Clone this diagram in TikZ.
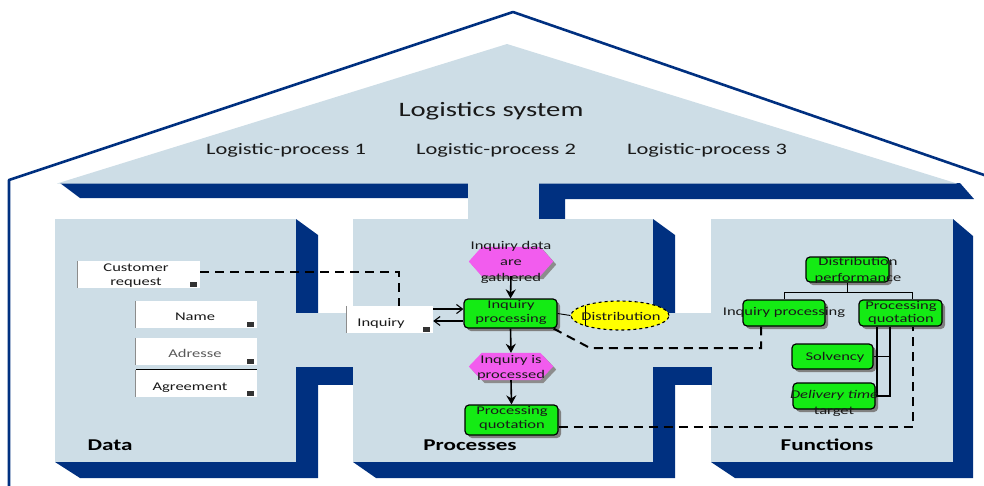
\documentclass[tikz,border=0pt]{standalone}
\usepackage{fontspec}
\setmainfont{Carlito}[FakeStretch=1.4]
\usetikzlibrary{arrows.meta,calc,shapes.geometric,shadows}
\definecolor{lb}{RGB}{205,221,230}
\definecolor{db}{RGB}{0,48,128}
\definecolor{gr}{RGB}{20,235,20}
\definecolor{mg}{RGB}{242,92,238}
\definecolor{yl}{RGB}{255,255,0}
\definecolor{tx}{RGB}{25,25,25}
\begin{document}
\begin{tikzpicture}[x=1pt,y=-1pt,
  smtxt/.style={font=\fontsize{11.8}{14}\selectfont, text=tx, align=center, inner sep=0pt},
  wbox/.style={fill=white, inner sep=0pt, minimum height=27pt},
  gbox/.style={fill=gr, draw=black, line width=1.2pt, rounded corners=4pt, inner sep=0pt,
     drop shadow={shadow xshift=3pt, shadow yshift=-3pt, fill=black!50, opacity=1}},
  hexbase/.style={inner sep=0pt, minimum width=84pt, minimum height=29pt},
  dsh/.style={dash pattern=on 9pt off 6pt, line width=2pt},
  arr/.style={-{Stealth[length=9pt,width=10pt]}, line width=1.6pt},
  barb/.style={-{Straight Barb[length=6pt,width=9pt]}, line width=1.1pt},
  icon/.style={fill=black!80},
  ttl/.style={font=\fontsize{20.5}{24}\selectfont, text=tx},
  subttl/.style={font=\fontsize{16}{19}\selectfont, text=tx},
  lbl/.style={font=\bfseries\fontsize{16.5}{19}\selectfont, text=black}]
\useasboundingbox (0,0) rectangle (984,485);
\clip (0,0) rectangle (984,485);
% house outline
\draw[db, line width=2.6pt, line join=round] (9,490) -- (9,180) -- (513,12) -- (1000,180.5);
% roof shadow band
\fill[db] (60,183) -- (468,183) -- (468,198) -- (80,198) -- cycle;
\fill[db] (539,183) -- (960,183) -- (974,199) -- (565,199) -- (565,219) -- (539,219) -- cycle;
% roof
\fill[lb] (57,183.5) -- (507,44) -- (957,183.5) -- cycle;
\fill[lb] (468,182) rectangle (539,220);
% box shadows
\fill[db] (296,219) -- (318,235) -- (318,478) -- (80,478) -- (55,462) -- (296,462) -- cycle;
\fill[db] (653,219) -- (675,235) -- (675,478) -- (376,478) -- (353,462) -- (653,462) -- cycle;
\fill[db] (953,219) -- (973,236) -- (973,478) -- (735,478) -- (711,462) -- (953,462) -- cycle;
% boxes
\fill[lb] (55,219) rectangle (296,462);
\fill[lb] (353,219) rectangle (653,462);
\fill[lb] (711,219) rectangle (953,462);
% side stems
\fill[db] (296,367) rectangle (353,385);
\fill[lb] (296,313) rectangle (353,367);
\fill[db] (653,367) rectangle (712,385);
\fill[lb] (653,313) rectangle (711,367);
% titles
\node[ttl] (ls) at (491,111) {Logistics system};
\node[subttl] (lp1) at (286,150) {Logistic-process 1};
\node[subttl] (lp2) at (496,150) {Logistic-process 2};
\node[subttl] (lp3) at (707,150) {Logistic-process 3};
\node[lbl] (ldata) at (110,445) {Data};
\node[lbl] (lproc) at (470,445) {Processes};
\node[lbl] (lfunc) at (827,445) {Functions};
% data objects
\node[wbox, minimum width=122pt] (cr) at (139,274.5) {};
\node[wbox, minimum width=121pt] (nm) at (196.5,314.5) {};
\node[wbox, minimum width=121pt] (ad) at (196.5,351.5) {};
\node[wbox, minimum width=121pt] (ag) at (196.5,383.5) {};
\node[wbox, minimum width=86pt] (inq) at (390,319.5) {};
\foreach \b in {cr,nm,ad,ag,inq} {
  \draw[black!45, line width=1.2pt] (\b.north west) -- (\b.south west);
  \fill[icon] ($(\b.south east)+(-10,-6)$) rectangle ++(7,5);
}
\draw[black, line width=0.8pt] (ag.north west) -- (ag.north east);
\node[smtxt] (crt) at (136,275.5) {Customer\\request};
\node[smtxt] (nmt) at (195,317) {Name};
\node[smtxt, text=black!65] (adt) at (195,353) {Adresse};
\node[smtxt] (agt) at (190,388) {Agreement};
\node[smtxt] (inqt) at (381,323.5) {Inquiry};
% process flow
\node[hexbase] (h1) at (511,261.5) {};
\node[hexbase, minimum height=27pt] (h2) at (511,366.5) {};
\foreach \h in {h1,h2} {
  \fill[black!45] ($(\h.west)+(3,3)$) -- ($(\h.north west)+(16,3)$) -- ($(\h.north east)+(-10,3)$) -- ($(\h.east)+(3,3)$) -- ($(\h.south east)+(-10,3)$) -- ($(\h.south west)+(16,3)$) -- cycle;
  \fill[mg] (\h.west) -- ($(\h.north west)+(13,0)$) -- ($(\h.north east)+(-13,0)$) -- (\h.east) -- ($(\h.south east)+(-13,0)$) -- ($(\h.south west)+(13,0)$) -- cycle;
}
\node[gbox, minimum width=93pt, minimum height=29pt] (ip) at (510.5,313.5) {};
\node[gbox, minimum width=93pt, minimum height=30pt] (pq) at (511.5,420) {};
\node[ellipse, draw=black, dashed, fill=yl, line width=1.1pt, minimum width=98pt, minimum height=29pt, inner sep=0pt] (dist) at (620,315.5) {};
\draw[line width=1pt] (585,305.5) -- (585,325.5);
\node[smtxt, font=\fontsize{11.8}{16}\selectfont] (h1t) at (511,262) {Inquiry data\\are\\gathered};
\node[smtxt, font=\fontsize{11.8}{15}\selectfont] (h2t) at (511,368) {Inquiry is\\processed};
\node[smtxt] (ipt) at (511,312) {Inquiry\\processing};
\node[smtxt] (pqt) at (512,418) {Processing\\quotation};
\node[smtxt] (distt) at (621,316) {Distribution};
\draw[arr] (h1.south) -- (ip.north);
\draw[arr] (ip.south) -- (h2.north);
\draw[arr] (h2.south) -- (pq.north);
\coordinate (a1) at ([yshift=4.5pt]ip.west);
\coordinate (a2) at ([yshift=-7.5pt]ip.west);
\draw[barb] (a1 -| inq.east) -- (a1);
\draw[barb] (a2) -- (a2 -| inq.east);
\draw[line width=0.9pt] (ip.east) -- (dist.west);
% function tree
\node[gbox, minimum width=83pt, minimum height=25pt] (dp) at (847.5,269.5) {};
\node[gbox, minimum width=82pt, minimum height=26pt] (fip) at (784,313) {};
\node[gbox, minimum width=83pt, minimum height=26pt] (fpq) at (900.5,313) {};
\node[gbox, minimum width=81pt, minimum height=25pt] (solv) at (832.5,356.5) {};
\node[gbox, minimum width=82pt, minimum height=26pt] (del) at (834,396) {};
\coordinate (t1) at ([yshift=-10pt]dp.south);
\coordinate (t2) at ([xshift=11.5pt]fpq.north);
\draw[line width=0.9pt] (dp.south) -- (t1);
\draw[line width=0.9pt] (fip.north) |- (t2 |- t1) -- (t2);
\coordinate (v1) at ([xshift=-23.5pt]fpq.south);
\coordinate (v2) at ([xshift=-10.5pt]fpq.south);
\draw[line width=1.3pt] (v2) |- (solv.east);
\draw[line width=1.3pt] (v2) |- (del.east);
\draw[line width=1.3pt] (v1) |- (del.east);
\node[smtxt, font=\fontsize{11.8}{16}\selectfont] (dpt) at (858,270) {Distribution\\performance};
\node[smtxt] (fipt) at (784,312) {Inquiry processing};
\node[smtxt, font=\fontsize{11.8}{13}\selectfont] (fpqt) at (901,313) {Processing\\quotation};
\node[smtxt] (solvt) at (835,357) {Solvency};
\node[smtxt, font=\fontsize{11.8}{16}\selectfont] (delt) at (834,403) {\textit{Delivery time}\\target};
% dashed relations
\draw[dsh] ([yshift=2.5pt]cr.east) -| ([xshift=9pt]inq.north);
\coordinate (k1) at (590,348);
\draw[dsh] ([xshift=-4pt]ip.south east) -- (k1) -| ([xshift=-23pt]fip.south);
\draw[dsh] ([yshift=-7pt]pq.east) -| ([xshift=12.5pt]fpq.south);
\end{tikzpicture}
\end{document}
